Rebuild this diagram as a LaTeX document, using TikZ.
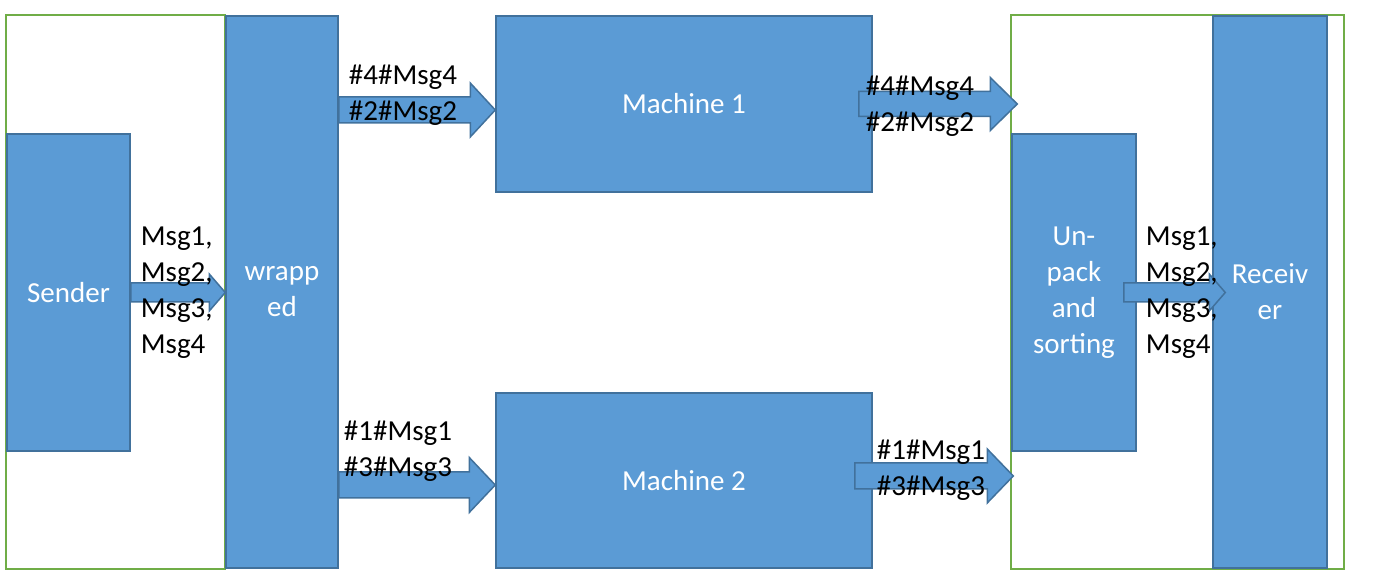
\documentclass[tikz,border=0pt]{standalone}
\usepackage{fontspec}
\setmainfont{Carlito}
\usetikzlibrary{positioning}
\usetikzlibrary{calc}
\usetikzlibrary{backgrounds}
\definecolor{boxblue}{HTML}{5B9BD5}
\definecolor{boxedge}{HTML}{41719C}
\definecolor{framegreen}{HTML}{70AD47}
\tikzset {
  % blue process box
  stage/.style = {
    draw = boxedge,
    fill = boxblue,
    line width = 1.5pt,
    rectangle,
    inner sep = 0,
    align = center,
    text = white
  },
  % block arrow between stages
  flow/.style = {
    draw = boxedge,
    fill = boxblue,
    line width = 1.5pt
  },
  % green group frame
  group/.style = {
    draw = framegreen,
    line width = 2pt
  },
  % message label
  msgs/.style = {
    align = left,
    inner sep = 0,
    anchor = west
  }
}
% block arrow from #1 to the x of #2, shaft half width #3, head half width #4, head length #5
\newcommand{\blockarrow}[5]{%
  \draw[flow] let \p1 = (#1), \p2 = (#2) in
    (\x1, \y1+#3) -- (\x2-#5, \y1+#3) -- (\x2-#5, \y1+#4) -- (\x2, \y1)
    -- (\x2-#5, \y1-#4) -- (\x2-#5, \y1-#3) -- (\x1, \y1-#3) -- cycle;
}

\begin{document}
\begin{tikzpicture}[x=1pt, y=1pt, font=\fontsize{29}{36}\selectfont]
    \useasboundingbox (0,0) rectangle (1374,588);

    \node[stage, minimum width=123, minimum height=317] (sender) at (68.5,295.5) {Sender};
    \node[stage, minimum width=112, minimum height=552] (wrapped) at (282,296) {wrapp\\ed};
    \node[stage, minimum width=376, minimum height=176] (machine1) at (684,484) {Machine 1};
    \node[stage, minimum width=376, minimum height=175] (machine2) at (684,107.5) {Machine 2};
    \node[stage, minimum width=124, minimum height=317] (unpack) at (1074,295.5) {Un-\\pack\\and\\sorting};
    \node[stage, minimum width=114, minimum height=552] (receiver) at (1270,296) {Receiv\\er};

    % frames go behind the boxes
    \begin{scope}[on background layer]
      \draw[group] (sender.west |- wrapped.north) rectangle (wrapped.south west);
      \draw[group] (unpack.west |- receiver.north) rectangle ($(receiver.south east)+(16,0)$);
    \end{scope}

    \coordinate (m1-in) at ([yshift=-6pt]machine1.west);
    \coordinate (m2-in) at ([yshift=-4.5pt]machine2.west);
    \coordinate (m1-out) at ([xshift=-14pt]machine1.east);
    \coordinate (m2-out) at ([xshift=-18pt, yshift=4.5pt]machine2.east);

    \blockarrow{sender.east}{wrapped.west}{9.5pt}{18.5pt}{16pt}
    \blockarrow{wrapped.east |- m1-in}{m1-in}{13pt}{27pt}{25pt}
    \blockarrow{wrapped.east |- m2-in}{m2-in}{13pt}{27.5pt}{26pt}
    \blockarrow{m1-out}{[xshift=6pt]unpack.west}{12.5pt}{26.5pt}{27pt}
    \blockarrow{m2-out}{[xshift=2pt]unpack.west}{13pt}{27pt}{26pt}
    \blockarrow{[xshift=-13pt]unpack.east}{[xshift=13pt]receiver.west}{9.5pt}{18.5pt}{16pt}

    \node[msgs] (msgs-in) at ([xshift=10pt]sender.east) {Msg1,\\Msg2,\\Msg3,\\Msg4};
    \node[msgs] (msgs-m1) at ($(wrapped.east |- machine1.west)+(10,9)$) {\#4\#Msg4\\\#2\#Msg2};
    \node[msgs] (msgs-m2) at ($(wrapped.east |- machine2.west)+(5,29.5)$) {\#1\#Msg1\\\#3\#Msg3};
    \node[msgs] (msgs-m1-out) at ($(machine1.east)+(-7,-2)$) {\#4\#Msg4\\\#2\#Msg2};
    \node[msgs] (msgs-m2-out) at ($(machine2.east)+(4,10)$) {\#1\#Msg1\\\#3\#Msg3};
    \node[msgs] (msgs-out) at ([xshift=9pt]unpack.east) {Msg1,\\Msg2,\\Msg3,\\Msg4};
\end{tikzpicture}
\end{document}
